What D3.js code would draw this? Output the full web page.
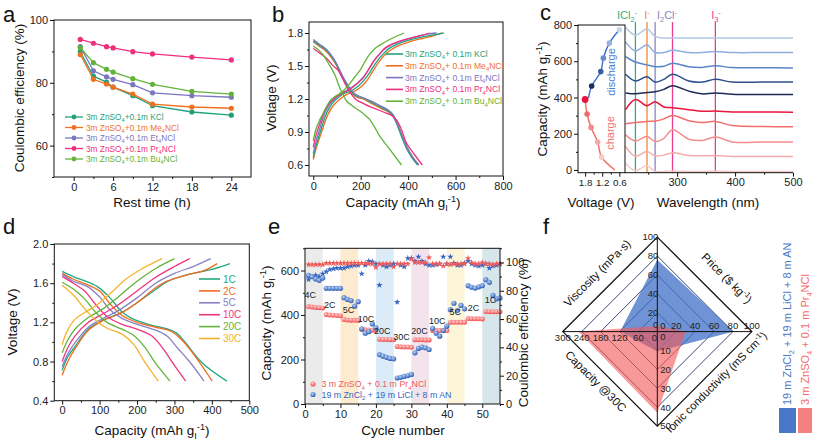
<!DOCTYPE html>
<html><head><meta charset="utf-8">
<script src="https://cdn.jsdelivr.net/npm/d3@7/dist/d3.min.js"></script>
<style>body{margin:0;background:#fff;}svg{display:block;}</style>
</head><body>
<svg id="fig" width="813" height="442"></svg>
<script>
// ---------------- DATA ----------------
// Panel a
const restTime = [1,3,5,6,9,12,18,24];
const ceKCl = [89.9,82.1,80.2,78.6,75.9,72.7,70.7,69.7];
const ceMe4 = [89.0,81.1,79.6,78.6,76.4,73.2,72.3,71.9];
const ceEt4 = [91.5,83.8,81.9,81.1,79.4,76.8,75.9,75.4];
const cePr4 = [93.8,92.6,91.5,91.1,89.9,89.2,88.2,87.3];
const ceBu4 = [91.2,86.4,84.3,83.4,81.3,79.5,77.3,76.4];
const aNames = ["3m ZnSO_{4}+0.1m KCl","3m ZnSO_{4}+0.1m Me_{4}NCl","3m ZnSO_{4}+0.1m Et_{4}NCl","3m ZnSO_{4}+0.1m Pr_{4}NCl","3m ZnSO_{4}+0.1m Bu_{4}NCl"];
const aColors = ["#1fa27c","#f0701f","#7b77bf","#ef2f7d","#63b33a"];

// Panel b  [capacity, voltage]
const bChKCl = [[0,0.67],[10,0.76],[28,0.89],[56,1.07],[80,1.16],[98,1.2],[130,1.25],[155,1.27],[185,1.31],[210,1.36],[235,1.43],[252,1.49],[275,1.56],[295,1.61],[320,1.66],[345,1.69],[395,1.73],[450,1.76],[500,1.78],[550,1.8]];
const bChMe4 = [[0,0.65],[12,0.75],[32,0.88],[62,1.06],[88,1.15],[108,1.19],[140,1.24],[165,1.26],[195,1.3],[220,1.35],[245,1.43],[262,1.49],[285,1.56],[305,1.61],[330,1.65],[355,1.68],[405,1.72],[460,1.75],[500,1.77],[540,1.8]];
const bChEt4 = [[0,0.7],[10,0.8],[26,0.92],[52,1.09],[76,1.17],[94,1.21],[125,1.26],[150,1.29],[178,1.33],[203,1.38],[228,1.45],[245,1.51],[268,1.58],[288,1.63],[312,1.67],[338,1.7],[390,1.74],[440,1.77],[480,1.79],[520,1.8]];
const bChPr4 = [[0,0.76],[10,0.86],[28,0.98],[45,1.08],[63,1.15],[85,1.2],[112,1.24],[140,1.27],[168,1.31],[190,1.35],[210,1.39],[239,1.49],[260,1.56],[281,1.61],[300,1.66],[323,1.69],[370,1.73],[420,1.76],[460,1.78],[491,1.8]];
const bChBu4 = [[0,0.82],[12,0.93],[25,1.0],[42,1.07],[56,1.13],[70,1.18],[90,1.22],[112,1.25],[133,1.29],[154,1.34],[175,1.4],[197,1.46],[218,1.54],[239,1.61],[260,1.66],[281,1.69],[330,1.75],[383,1.8]];
const bDisKCl = [[0,1.73],[25,1.69],[56,1.64],[91,1.54],[110,1.46],[126,1.39],[148,1.31],[168,1.25],[190,1.22],[210,1.21],[245,1.17],[281,1.13],[316,1.09],[335,1.05],[351,0.98],[372,0.86],[393,0.75],[415,0.67],[440,0.6]];
const bDisMe4 = [[0,1.72],[25,1.68],[56,1.63],[91,1.53],[110,1.45],[126,1.38],[148,1.3],[168,1.24],[190,1.21],[210,1.2],[245,1.16],[281,1.12],[318,1.08],[338,1.04],[355,0.97],[376,0.86],[398,0.75],[420,0.67],[445,0.6]];
const bDisEt4 = [[0,1.74],[25,1.7],[56,1.65],[91,1.55],[110,1.47],[126,1.4],[148,1.32],[168,1.26],[190,1.23],[210,1.21],[245,1.18],[281,1.14],[316,1.1],[336,1.06],[352,0.99],[374,0.87],[396,0.76],[420,0.67],[445,0.6]];
const bDisPr4 = [[0,1.66],[25,1.62],[56,1.57],[80,1.51],[105,1.46],[125,1.38],[141,1.31],[162,1.24],[183,1.19],[210,1.16],[239,1.13],[275,1.1],[309,1.07],[330,1.05],[351,1.01],[372,0.92],[393,0.8],[425,0.7],[460,0.6]];
const bDisBu4 = [[0,1.68],[20,1.65],[42,1.6],[65,1.52],[91,1.42],[112,1.3],[130,1.22],[141,1.18],[170,1.13],[197,1.09],[220,1.05],[239,1.01],[260,0.94],[281,0.86],[320,0.75],[372,0.6]];
const bNames = ["3m ZnSO_{4}+ 0.1m KCl","3m ZnSO_{4}+ 0.1m Me_{4}NCl","3m ZnSO_{4}+ 0.1m Et_{4}NCl","3m ZnSO_{4}+ 0.1m Pr_{4}NCl","3m ZnSO_{4}+ 0.1m Bu_{4}NCl"];

// Panel c
const cDisV = [1.68,1.57,1.25,1.16,0.95,0.6];
const cDisCap = [398,463,543,617,700,774];
const cChV = [0.75,1.22,1.36,1.59,1.73,1.8];
const cChCap = [0,71,154,235,309,389];
const cWave = [211,228,248,262,277,292,320,343,366,395,450,500];
const spec1 = [787,744,778,737,728,728,728,728,728,728,728,728];
const spec2 = [707,657,689,648,648,660,648,648,654,648,648,648];
const spec3 = [626,596,580,570,572,589,570,566,575,565,564,563];
const spec4 = [528,491,515,485,500,528,491,485,500,485,485,485];
const spec5 = [425,420,428,432,445,465,435,420,425,418,416,416];
const spec6 = [333,389,355,376,348,343,333,324,325,320,320,318];
const spec7 = [255,262,268,270,282,300,272,262,268,245,240,238];
const spec8 = [194,160,185,157,175,222,170,163,182,155,154,154];
const spec9 = [130,76,102,78,82,95,80,78,80,75,74,74];
const spec10 = [37,-4,24,-8,-8,-6,-8,-8,-7,-8,-8,-8];
const cRefWave = [228,248,262,292,366];

// Panel d
const dCh1 = [[0,0.71],[15,0.85],[34,0.95],[70,1.13],[114,1.23],[159,1.3],[200,1.4],[248,1.53],[283,1.62],[337,1.69],[400,1.74],[448,1.8]];
const dCh2 = [[0,0.66],[15,0.8],[34,0.93],[70,1.12],[110,1.22],[155,1.29],[200,1.4],[245,1.54],[280,1.62],[330,1.68],[380,1.73],[414,1.8]];
const dCh5 = [[0,0.75],[15,0.88],[34,0.99],[70,1.15],[110,1.24],[150,1.32],[200,1.45],[250,1.6],[300,1.7],[350,1.77],[397,1.85]];
const dCh10 = [[0,0.8],[15,0.94],[34,1.06],[70,1.2],[110,1.29],[150,1.38],[200,1.52],[250,1.66],[300,1.77],[341,1.85]];
const dCh20 = [[0,0.89],[15,1.02],[34,1.13],[70,1.25],[110,1.34],[150,1.46],[200,1.62],[250,1.75],[300,1.85]];
const dCh30 = [[0,0.97],[12,1.1],[34,1.23],[60,1.3],[90,1.37],[130,1.5],[170,1.64],[210,1.74],[240,1.8],[267,1.85]];
const dDis1 = [[0,1.72],[34,1.66],[70,1.61],[96,1.56],[128,1.45],[159,1.31],[186,1.24],[230,1.18],[283,1.13],[306,1.09],[328,1.0],[373,0.79],[440,0.6]];
const dDis2 = [[0,1.7],[30,1.64],[70,1.58],[100,1.52],[130,1.38],[160,1.27],[200,1.2],[250,1.15],[290,1.11],[320,1.02],[350,0.88],[401,0.6]];
const dDis5 = [[0,1.69],[30,1.62],[70,1.56],[100,1.46],[130,1.32],[160,1.24],[200,1.18],[250,1.12],[280,1.06],[310,0.93],[340,0.8],[379,0.6]];
const dDis10 = [[0,1.67],[30,1.6],[60,1.52],[90,1.38],[120,1.26],[160,1.18],[200,1.13],[240,1.06],[270,0.93],[300,0.76],[330,0.6]];
const dDis20 = [[0,1.61],[30,1.54],[60,1.44],[90,1.3],[120,1.2],[160,1.13],[190,1.07],[220,0.95],[250,0.78],[288,0.6]];
const dDis30 = [[0,1.58],[30,1.48],[60,1.34],[90,1.22],[120,1.14],[160,1.08],[190,0.98],[220,0.8],[257,0.6]];
const dNames = ["1C","2C","5C","10C","20C","30C"];
const dColors = ["#22a87e","#f26b21","#8683c4","#f0337f","#64b43b","#f7b32b"];

// Panel e
const eCycle = d3.range(1,56);
const eRedCap = [438,436,434,433,432, 402,400,399,398,397, 380,378,377,376,375, 335,334,333,332,332, 291,290,290,289,289, 258,257,256,256,255, 289,289,289,288,288, 331,330,330,330,330, 368,367,367,367,367, 384,383,383,383,382, 416,415,415,415,415];
const eBlueCap = [578,572,562,556,566, 520,520,520,520,520, 478,470,465,440,460, 338,318,325,360,342, 222,215,210,205,203, 117,120,124,128,133, 230,250,256,253,245, 340,318,305,330,350, 424,453,421,443,428, 532,525,521,527,532, 559,547,488,473,477];
const eRedCE = [98.5,98.5,98.5,98.5,98.5, 99.5,99.5,99.5,99.5,99.5, 99.5,99.5,99.5,99.5,99.5, 99.5,99.5,99,99,96.5, 99,99,99,99,97, 99,99,99,99,102.5, 100,100,100,100,103.5, 99,99,99,97.5,99, 98.5,99,99,99,99, 103,100,99,99,100, 99,99,98.5,99,99];
const eBlueCE = [88,90,91,90,92, 93.5,95,95.5,96,96, 96,97,97.5,98,98, 92,98,101,100.5,99, 84,98,97,98,99, 72,98,97,103,103, 101,104,101,99,98, 98,98.5,99,104,99, 104,99.5,98,98,99.5, 101,99,98,97.5,98, 99,96,97.5,98,99];
const eBands = [[0,5],[10,15],[20,25],[30,35],[40,45],[50,55]];
const eBandColors = ["#ebebeb","#fdebd0","#dcebf8","#f3e3ec","#fcf5d8","#d6e6ea"];
const eRateText = ["4C","2C","5C","10C","20C","30C","20C","10C","5C","2C","1C"];
const eRateCycle = [1.5,7,12.3,17.2,21.8,27.2,32.3,37.3,42.4,47.5,52.3];
const eRateCap = [492,448,424,384,330,304,330,376,418,432,472];
const eNames = ["3 m ZnSO_{4} + 0.1 m Pr_{4}NCl","19 m ZnCl_{2} + 19 m LiCl + 8 m AN"];

// Panel f
const fAxes = ["Viscosity (mPa·s)","Price ($ kg^{-1})","Ionic conductivity (mS cm^{-1})","Capacity @30C"];
const fMax = [100,100,50,300];
const fTicks = [[0,20,40,60,80,100],[0,20,40,60,80,100],[0,10,20,30,40,50],[0,60,120,180,240,300]];
const fBlue = [76,81,10.5,118];
const fRed = [6,30,43,250];
const fNames = ["19 m ZnCl_{2} + 19 m LiCl + 8 m AN","3 m ZnSO_{4} + 0.1 m Pr_{4}NCl"];

// ---------------- HELPERS ----------------
const FONT = "Arial, 'Liberation Sans', Helvetica, sans-serif";
const svg = d3.select("#fig").attr("font-family", FONT);

function rich(t, str){
  const fs = +t.attr("font-size");
  const parts = str.split(/(_\{[^}]*\}|\^\{[^}]*\})/).filter(s=>s.length);
  let shift = 0;
  parts.forEach(p=>{
    let target = 0, txt = p, small = false;
    if(p.startsWith("_{")){ target = 0.28*fs; txt = p.slice(2,-1); small = true; }
    else if(p.startsWith("^{")){ target = -0.38*fs; txt = p.slice(2,-1); small = true; }
    const ts = t.append("tspan").text(txt).attr("dy", target-shift);
    if(small) ts.attr("font-size", 0.68*fs);
    shift = target;
  });
  return t;
}
function label(x,y,str,opts={}){
  const t = svg.append("text").attr("x",x).attr("y",y)
    .attr("font-size", opts.fs||13.5).attr("fill", opts.color||"#111")
    .attr("text-anchor", opts.anchor||"middle");
  if(opts.rot!==undefined) t.attr("transform",`rotate(${opts.rot},${x},${y})`);
  if(opts.dy) t.attr("dy",opts.dy);
  rich(t,str);
  return t;
}
function addAxis(scale, orient, tr, major, minor, fmt, fs){
  const mk = {bottom:d3.axisBottom,left:d3.axisLeft,right:d3.axisRight,top:d3.axisTop}[orient];
  const a = svg.append("g").attr("transform",tr)
    .call(mk(scale).tickValues(major).tickSize(4).tickSizeOuter(0).tickPadding(2).tickFormat(fmt||(d=>d)));
  a.select(".domain").remove();
  a.selectAll("text").attr("font-size",fs||11).attr("font-family",FONT).attr("fill","#222");
  a.selectAll("line").attr("stroke","#111");
  if(minor){
    const b = svg.append("g").attr("transform",tr)
      .call(mk(scale).tickValues(minor).tickSize(2).tickSizeOuter(0).tickFormat(""));
    b.select(".domain").remove(); b.selectAll("line").attr("stroke","#111");
  }
}
function frame(x0,y0,x1,y1){
  svg.append("rect").attr("x",x0).attr("y",y0).attr("width",x1-x0).attr("height",y1-y0)
    .attr("fill","none").attr("stroke","#111").attr("stroke-width",1);
}
function clip(id,x0,y0,x1,y1){
  svg.append("clipPath").attr("id",id).append("rect").attr("x",x0).attr("y",y0).attr("width",x1-x0).attr("height",y1-y0);
}
const panelLetter = (x,y,s)=>svg.append("text").attr("x",x).attr("y",y).attr("font-size",22).attr("fill","#111").text(s);

const defs = svg.append("defs");
function sphere(id,light,dark){
  const g = defs.append("radialGradient").attr("id",id).attr("cx","40%").attr("cy","35%").attr("r","65%");
  g.append("stop").attr("offset","0%").attr("stop-color",light);
  g.append("stop").attr("offset","100%").attr("stop-color",dark);
}
sphere("gRed","#ffd0d0","#ee4a4a");
sphere("gBlue","#b8d0f5","#2a5db5");

// ---------------- PANEL A ----------------
{
  const x = d3.scaleLinear().domain([-3,27]).range([54,251]);
  const y = d3.scaleLinear().domain([50,100]).range([177,20]);
  const series = [ceKCl,ceMe4,ceEt4,cePr4,ceBu4];
  const line = d3.line().x((d,i)=>x(restTime[i])).y(d=>y(d));
  series.forEach((s,k)=>{
    svg.append("path").attr("d",line(s)).attr("fill","none").attr("stroke",aColors[k]).attr("stroke-width",1.3);
    svg.selectAll(null).data(s).enter().append("circle")
      .attr("cx",(d,i)=>x(restTime[i])).attr("cy",d=>y(d)).attr("r",2.6).attr("fill",aColors[k]);
  });
  frame(54,20,251,177);
  addAxis(x,"bottom","translate(0,177)",[0,6,12,18,24],[3,9,15,21]);
  addAxis(y,"left","translate(54,0)",[60,80,100],[50,70,90]);
  aNames.forEach((n,k)=>{
    const yy = 117 + k*10.5;
    svg.append("line").attr("x1",65).attr("x2",83).attr("y1",yy).attr("y2",yy).attr("stroke",aColors[k]).attr("stroke-width",1.3);
    svg.append("circle").attr("cx",74).attr("cy",yy).attr("r",2.4).attr("fill",aColors[k]);
    label(86,yy+3,n,{fs:8.3,color:aColors[k],anchor:"start"});
  });
  label(152,207,"Rest time (h)");
  label(24,98,"Coulombic efficiency (%)",{rot:-90,dy:"0.35em"});
  panelLetter(3,22,"a");
}

// ---------------- PANEL B ----------------
{
  const x = d3.scaleLinear().domain([-18,800]).range([309,503]);
  const y = d3.scaleLinear().domain([0.5,1.9]).range([176,22]);
  const lineY = d3.line().x(d=>x(d[0])).y(d=>y(d[1])).curve(d3.curveCatmullRom);
  const ch = [bChKCl,bChMe4,bChEt4,bChPr4,bChBu4];
  const dis = [bDisKCl,bDisMe4,bDisEt4,bDisPr4,bDisBu4];
  [1,0,2,3,4].forEach(k=>{
    svg.append("path").attr("d",lineY(ch[k])).attr("fill","none").attr("stroke",aColors[k]).attr("stroke-width",1.3);
    svg.append("path").attr("d",lineY(dis[k])).attr("fill","none").attr("stroke",aColors[k]).attr("stroke-width",1.3);
  });
  frame(309,22,503,176);
  addAxis(x,"bottom","translate(0,176)",[0,200,400,600,800],[100,300,500,700]);
  addAxis(y,"left","translate(309,0)",[0.6,0.9,1.2,1.5,1.8],[0.75,1.05,1.35,1.65],d3.format(".1f"));
  bNames.forEach((n,k)=>{
    const yy = 54 + k*11.8;
    svg.append("line").attr("x1",386).attr("x2",403).attr("y1",yy).attr("y2",yy).attr("stroke",aColors[k]).attr("stroke-width",1.6);
    label(405,yy+3,n,{fs:8.6,color:aColors[k],anchor:"start"});
  });
  label(403,207,"Capacity (mAh g_{I}^{-1})");
  label(276,98,"Voltage (V)",{rot:-90,dy:"0.35em"});
  panelLetter(272,22,"b");
}

// ---------------- PANEL C ----------------
{
  const xv = d3.scaleLinear().domain([2.05,0.4]).range([578,625]);
  const y = d3.scaleLinear().domain([-15,800]).range([172.7,25]);
  const xw = d3.scaleLinear().domain([210,500]).range([625,793]);
  const disCols = ["#1d2d5e","#1d2d5e","#3b5c9e","#6b8ecb","#98b3de","#c7d5ec"];
  const chCols = ["#f7c9c9","#f7c9c9","#f5a9a9","#f28b8b","#f06a6a","#e8163c"];
  const l = d3.line().curve(d3.curveCatmullRom);
  svg.append("path").attr("d",l(cDisV.map((v,i)=>[xv(v),y(cDisCap[i])]))).attr("fill","none").attr("stroke","#3a6fc8").attr("stroke-width",1.4);
  svg.append("path").attr("d",l(cChV.map((v,i)=>[xv(v),y(cChCap[i])]))).attr("fill","none").attr("stroke","#f26a5e").attr("stroke-width",1.4);
  cDisV.forEach((v,i)=>{ if(i>0) svg.append("circle").attr("cx",xv(v)).attr("cy",y(cDisCap[i])).attr("r",2.8).attr("fill",disCols[i]); });
  cChV.forEach((v,i)=>{ if(i>0) svg.append("circle").attr("cx",xv(v)).attr("cy",y(cChCap[i])).attr("r",i===5?3.4:2.8).attr("fill",chCols[i]); });
  label(615,72,"discharge",{fs:11,color:"#4a7fd0",rot:-90,dy:"0.35em"});
  label(614,133,"charge",{fs:11,color:"#f07272",rot:-90,dy:"0.35em"});
  clip("clipC",625,18,793,173);
  const specs = [spec1,spec2,spec3,spec4,spec5,spec6,spec7,spec8,spec9,spec10];
  const specCols = ["#b3c7e6","#8eaee0","#5a85c8","#2f4f8c","#1d2b57","#e8163c","#f26f6f","#f48e8e","#f6abab","#f8c8c8"];
  const sl = d3.line().x((d,i)=>xw(cWave[i])).y(d=>y(d)).curve(d3.curveCatmullRom);
  const refCols = ["#3aab7e","#f28a2e","#8b86c0","#e83e8c","#e83e8c"];
  cRefWave.forEach((w,i)=>{
    svg.append("line").attr("x1",xw(w)).attr("x2",xw(w)).attr("y1",22).attr("y2",172.7).attr("stroke",refCols[i]).attr("stroke-width",1.3);
  });
  specs.forEach((s,k)=>{
    svg.append("path").attr("d",sl(s)).attr("fill","none").attr("stroke",specCols[k]).attr("stroke-width",1.5).attr("clip-path","url(#clipC)");
  });
  label(627,19,"ICl_{2}^{-}",{fs:11,color:"#3aab7e"});
  label(647,19,"I^{-}",{fs:11,color:"#f28a2e"});
  label(667,19,"I_{2}Cl^{-}",{fs:11,color:"#8b86c0"});
  label(716,19,"I_{3}^{-}",{fs:11,color:"#e83e8c"});
  frame(578,25,625,172.7);
  svg.append("line").attr("x1",625).attr("x2",793).attr("y1",172.7).attr("y2",172.7).attr("stroke","#111");
  addAxis(xv,"bottom","translate(0,172.7)",[1.8,1.2,0.6],[1.5,0.9],d3.format(".1f"),9.8);
  addAxis(y,"left","translate(578,0)",[0,200,400,600,800],[100,300,500,700]);
  addAxis(xw,"bottom","translate(0,172.7)",[300,400,500],[250,350,450]);
  label(547,99,"Capacity (mAh g_{I}^{-1})",{rot:-90,dy:"0.35em"});
  label(601,207,"Voltage (V)");
  label(708,207,"Wavelength (nm)");
  panelLetter(540,20,"c");
}

// ---------------- PANEL D ----------------
{
  const x = d3.scaleLinear().domain([-21,500]).range([54.3,249.3]);
  const y = d3.scaleLinear().domain([0.4,2.0]).range([400.7,244]);
  const l = d3.line().x(d=>x(d[0])).y(d=>y(d[1])).curve(d3.curveCatmullRom);
  const ch = [dCh1,dCh2,dCh5,dCh10,dCh20,dCh30];
  const dis = [dDis1,dDis2,dDis5,dDis10,dDis20,dDis30];
  ch.forEach((s,k)=>{
    svg.append("path").attr("d",l(s)).attr("fill","none").attr("stroke",dColors[k]).attr("stroke-width",1.3);
    svg.append("path").attr("d",l(dis[k])).attr("fill","none").attr("stroke",dColors[k]).attr("stroke-width",1.3);
  });
  frame(54.3,244,249.3,400.7);
  addAxis(x,"bottom","translate(0,400.7)",[0,100,200,300,400,500],[50,150,250,350,450]);
  addAxis(y,"left","translate(54.3,0)",[0.4,0.8,1.2,1.6,2.0],[0.6,1.0,1.4,1.8],d3.format(".1f"));
  dNames.forEach((n,k)=>{
    const yy = 279 + k*11.9;
    svg.append("line").attr("x1",199).attr("x2",220).attr("y1",yy).attr("y2",yy).attr("stroke",dColors[k]).attr("stroke-width",1.6);
    label(223,yy+3.6,n,{fs:10,color:dColors[k],anchor:"start"});
  });
  label(152,435,"Capacity (mAh g_{I}^{-1})");
  label(17,322,"Voltage (V)",{rot:-90,dy:"0.35em"});
  panelLetter(3,234,"d");
}

// ---------------- PANEL E ----------------
{
  const x = d3.scaleLinear().domain([0,55]).range([305,500]);
  const y = d3.scaleLinear().domain([0,700]).range([404,248.3]);
  const yr = d3.scaleLinear().domain([0,110]).range([404,248.3]);
  eBands.forEach((b,i)=>{
    svg.append("rect").attr("x",x(b[0])).attr("y",248.3).attr("width",x(b[1])-x(b[0])).attr("height",404-248.3).attr("fill",eBandColors[i]);
  });
  const star = d3.symbol().type(d3.symbolStar).size(13);
  eCycle.forEach((c,i)=>{
    svg.append("path").attr("d",star()).attr("transform",`translate(${x(c)},${yr(eBlueCE[i])})`).attr("fill","#3466c2");
  });
  eCycle.forEach((c,i)=>{
    svg.append("path").attr("d",star()).attr("transform",`translate(${x(c)},${yr(eRedCE[i])})`).attr("fill","#f05a5a");
  });
  eCycle.forEach((c,i)=>{
    svg.append("circle").attr("cx",x(c)).attr("cy",y(eRedCap[i])).attr("r",2.5).attr("fill","url(#gRed)");
  });
  eCycle.forEach((c,i)=>{
    svg.append("circle").attr("cx",x(c)).attr("cy",y(eBlueCap[i])).attr("r",2.6).attr("fill","url(#gBlue)");
  });
  eRateText.forEach((t,i)=>{
    label(x(eRateCycle[i]),y(eRateCap[i])+3.5,t,{fs:9,color:"#222"});
  });
  frame(305,248.3,500,404);
  addAxis(x,"bottom","translate(0,404)",[0,10,20,30,40,50],[5,15,25,35,45,55]);
  addAxis(y,"left","translate(305,0)",[0,200,400,600],[100,300,500,700]);
  addAxis(yr,"right","translate(500,0)",[0,20,40,60,80,100],[10,30,50,70,90,110]);
  const eCols = ["#f05a5a","#3466c2"];
  eNames.forEach((n,k)=>{
    const yy = 384 + k*10.5;
    svg.append("circle").attr("cx",313).attr("cy",yy).attr("r",2.6).attr("fill",k===0?"url(#gRed)":"url(#gBlue)");
    label(321.5,yy+3.2,n,{fs:8.8,color:eCols[k],anchor:"start"});
  });
  label(403,435,"Cycle number");
  label(271,323,"Capacity (mAh g_{I}^{-1})",{rot:-90,dy:"0.35em"});
  label(528,333,"Coulombic efficiency (%)",{rot:-90,dy:"0.35em"});
  panelLetter(268,234,"e");
}

// ---------------- PANEL F ----------------
{
  const cx = 657.3, cy = 331.6, R = 94.5;
  const dirs = [[0,-1],[1,0],[0,1],[-1,0]];
  const sc = fMax.map(m=>d3.scaleLinear().domain([0,m]).range([0,R]));
  const pt = (k,v)=>[cx+dirs[k][0]*sc[k](v), cy+dirs[k][1]*sc[k](v)];
  const poly = d3.line().curve(d3.curveLinearClosed);
  [0.2,0.4,0.6,0.8].forEach(f=>{
    svg.append("path").attr("d",poly(dirs.map((d,k)=>pt(k,fMax[k]*f)))).attr("fill","none").attr("stroke","#243463").attr("stroke-width",0.9);
  });
  svg.append("path").attr("d",poly(fBlue.map((v,k)=>pt(k,v)))).attr("fill","#3f6fc6").attr("fill-opacity",0.75);
  svg.append("path").attr("d",poly(fRed.map((v,k)=>pt(k,v)))).attr("fill","#f45858").attr("fill-opacity",0.62);
  svg.append("line").attr("x1",cx).attr("x2",cx).attr("y1",cy-R).attr("y2",cy+R).attr("stroke","#111").attr("stroke-width",1);
  svg.append("line").attr("x1",cx-R).attr("x2",cx+R).attr("y1",cy).attr("y2",cy).attr("stroke","#111").attr("stroke-width",1);
  svg.append("path").attr("d",poly(dirs.map((d,k)=>pt(k,fMax[k])))).attr("fill","none").attr("stroke","#111").attr("stroke-width",1.3);
  const fs = 9.5;
  fTicks[0].forEach(v=>{ const p=pt(0,v); svg.append("text").attr("x",p[0]+1).attr("y",p[1]+ (v===0?-4:3.3)).attr("text-anchor","end").attr("font-size",fs).attr("fill","#222").text(v); });
  fTicks[1].forEach(v=>{ if(v===0) return; const p=pt(1,v); svg.append("text").attr("x",p[0]).attr("y",p[1]-2.5).attr("text-anchor","middle").attr("font-size",fs).attr("fill","#222").text(v); });
  fTicks[2].forEach(v=>{ const p=pt(2,v); svg.append("text").attr("x",p[0]+3).attr("y",p[1]+(v===0?8:3.3)).attr("text-anchor","start").attr("font-size",fs).attr("fill","#222").text(v); });
  fTicks[3].forEach(v=>{ const p=pt(3,v); svg.append("text").attr("x",p[0]-(v===0?3:0)).attr("y",p[1]+9.5).attr("text-anchor","middle").attr("font-size",fs).attr("fill","#222").text(v); });
  svg.append("text").attr("x",cx+3).attr("y",cy-2.5).attr("font-size",fs).attr("fill","#222").text("0");
  label(600,276,fAxes[0],{fs:11.5,rot:-45,dy:"0.35em"});
  label(724,281,fAxes[1],{fs:11.5,rot:45,dy:"0.35em"});
  label(719,385,fAxes[2],{fs:11.2,rot:-45,dy:"0.35em"});
  label(593,384,fAxes[3],{fs:11.5,rot:45,dy:"0.35em"});
  label(791,405,fNames[0],{fs:11,color:"#4a78c8",anchor:"start",rot:-90});
  label(809,405,fNames[1],{fs:11,color:"#f46a6a",anchor:"start",rot:-90});
  svg.append("rect").attr("x",779).attr("y",408).attr("width",17).attr("height",25).attr("fill","#4a78c8");
  svg.append("rect").attr("x",798).attr("y",408).attr("width",14).attr("height",25).attr("fill","#f48080");
  panelLetter(543,234,"f");
}
</script>
</body></html>
